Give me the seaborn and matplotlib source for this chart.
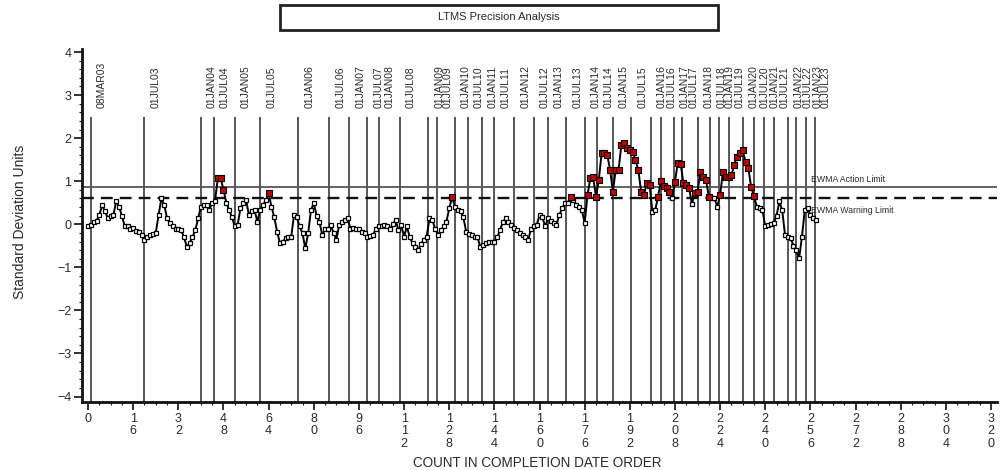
import numpy as np
import pandas as pd
import matplotlib
matplotlib.use("Agg")
import matplotlib.pyplot as plt
import seaborn as sns
from matplotlib.patches import Rectangle
from matplotlib.ticker import MultipleLocator

# ---------------- data ----------------
ewma = (
    [-0.05, -0.02, 0.05, 0.08, 0.22, 0.44, 0.30, 0.15, 0.20, 0.22]
    + [0.55, 0.40, 0.20, -0.05, -0.03, -0.10, -0.08, -0.15, -0.17, -0.25]
    + [-0.36, -0.30, -0.25, -0.22, -0.20, 0.22, 0.60, 0.45, 0.14, 0.03]
    + [-0.05, -0.10, -0.12, -0.14, -0.30, -0.52, -0.44, -0.30, -0.14, 0.14]
    + [0.41, 0.45, 0.44, 0.34, 0.50, 0.55, 1.07, 1.07, 0.80, 0.50]
    + [0.33, 0.16, -0.05, -0.02, 0.37, 0.49, 0.56, 0.22, 0.30, 0.33]
    + [0.06, 0.33, 0.45, 0.56, 0.72, 0.41, 0.16, -0.17, -0.44, -0.40]
    + [-0.33, -0.30, -0.29, 0.22, 0.16, -0.05, -0.21, -0.56, -0.21, 0.33]
    + [0.49, 0.20, 0.06, -0.25, -0.12, -0.10, -0.02, -0.20, -0.36, -0.02]
    + [0.06, 0.10, 0.14, -0.10, -0.08, -0.12, -0.10, -0.17, -0.20, -0.29]
    + [-0.27, -0.25, -0.10, -0.05, -0.04, -0.02, -0.05, -0.10, 0.00, 0.10]
    + [-0.14, -0.02, -0.29, -0.05, -0.30, -0.44, -0.52, -0.60, -0.45, -0.36]
    + [-0.29, 0.14, 0.10, -0.10, -0.25, -0.14, -0.05, 0.06, 0.37, 0.63]
    + [0.41, 0.33, 0.30, 0.16, -0.17, -0.22, -0.25, -0.29, -0.30, -0.52]
    + [-0.48, -0.44, -0.40, -0.42, -0.40, -0.30, -0.14, 0.05, 0.14, 0.06]
    + [-0.02, -0.08, -0.14, -0.21, -0.25, -0.30, -0.36, -0.10, -0.05, -0.02]
    + [0.22, 0.16, -0.05, 0.14, 0.08, 0.03, -0.02, 0.22, 0.37, 0.49]
    + [0.50, 0.63, 0.56, 0.45, 0.41, 0.33, 0.03, 0.68, 1.07, 1.10]
    + [0.64, 1.03, 1.65, 1.66, 1.62, 1.26, 0.76, 1.26, 1.26, 1.84]
    + [1.88, 1.76, 1.72, 1.69, 1.49, 1.26, 0.76, 0.68, 0.95, 0.91]
    + [0.29, 0.33, 0.64, 1.00, 0.90, 0.84, 0.76, 0.60, 0.99, 1.43]
    + [1.41, 0.95, 0.91, 0.84, 0.47, 0.72, 0.76, 1.22, 1.10, 1.03]
    + [0.64, 0.60, 0.60, 0.41, 0.68, 1.22, 1.10, 1.10, 1.14, 1.38]
    + [1.57, 1.65, 1.72, 1.45, 1.30, 0.86, 0.65, 0.41, 0.37, 0.33]
    + [-0.05, -0.02, 0.00, 0.03, 0.20, 0.53, 0.33, -0.25, -0.30, -0.33]
    + [-0.50, -0.60, -0.79, -0.29, 0.33, 0.37, 0.22, 0.15, 0.10]
)
action_limit = 0.866
warning_limit = 0.60

date_labels = ["08MAR03", "01JUL03", "01JAN04", "01JUL04", "01JAN05", "01JUL05",
               "01JAN06", "01JUL06", "01JAN07", "01JUL07", "01JAN08", "01JUL08",
               "01JAN09", "01JUL09", "01JAN10", "01JUL10", "01JAN11", "01JUL11",
               "01JAN12", "01JUL12", "01JAN13", "01JUL13", "01JAN14", "01JUL14",
               "01JAN15", "01JUL15", "01JAN16", "01JUL16", "01JAN17", "01JUL17",
               "01JAN18", "01JUL18", "01JAN19", "01JUL19", "01JAN20", "01JUL20",
               "01JAN21", "01JUL21", "01JAN22", "01JUL22", "01JAN23", "01JUL23"]
date_counts = [1, 20, 40, 44.5, 52, 61, 74.5, 85.5, 92.5, 99, 103, 110.5,
               120.5, 123.5, 130, 134.5, 139.5, 144, 151, 158, 163, 169.5,
               176, 180.5, 186, 192.5, 199.5, 203, 207.5, 210.5, 216, 220.5,
               223.5, 227, 232, 236, 239.5, 243, 248, 251, 254.5, 257.5]

xtick_values = list(range(0, 321, 16))
ytick_values = list(range(-4, 5))

# ---------------- style ----------------
sns.set_style("ticks")
plt.rcParams['font.family'] = ['Liberation Sans', 'DejaVu Sans']
TXT = '#2a2a2a'

fig = plt.figure(figsize=(10.05, 4.70), dpi=100)
ax = fig.add_axes([0.082, 0.1453, 0.9097, 0.7504])

df = pd.DataFrame({'count': np.arange(len(ewma)), 'ewma': ewma})

# date boundary lines
ax.vlines(date_counts, -4.12, 2.48, color='#3a3a3a', lw=1.2, zorder=1)
for c, lab in zip(date_counts, date_labels):
    ax.annotate(lab, xy=(c, 2.70), xytext=(8, 0), textcoords='offset points',
                rotation=90, ha='center', va='bottom', fontsize=7.5, color=TXT)

# limits
ax.axhline(action_limit, color='#555555', lw=1.3, zorder=1)
ax.axhline(warning_limit, color='#111111', lw=1.7, ls=(0, (5, 3)), zorder=1)
ax.text(256.2, 1.04, 'EWMA Action Limit', fontsize=6.3, va='center', ha='left',
        color=TXT, zorder=1)
ax.text(256.2, 0.31, 'EWMA Warning Limit', fontsize=6.3, va='center', ha='left',
        color=TXT, zorder=1)

# series
sns.lineplot(data=df, x='count', y='ewma', ax=ax, color='black', lw=1.4,
             marker='s', markersize=3.4, markerfacecolor='white',
             markeredgecolor='black', markeredgewidth=0.9, zorder=3)
hi = df[df['ewma'] > warning_limit]
sns.scatterplot(data=hi, x='count', y='ewma', ax=ax, marker='s', s=13,
                color='#c00000', edgecolor='black', linewidth=0.8, zorder=4)

# axes
ax.set_xlim(-2, 322)
ax.set_ylim(-4.12, 4.07)
ax.set_xticks(xtick_values)
ax.set_xticklabels(['\n'.join(str(v)) for v in xtick_values], linespacing=1.05)
ax.set_yticks(ytick_values)
ax.xaxis.set_minor_locator(MultipleLocator(4))
ax.yaxis.set_minor_locator(MultipleLocator(0.2))
ax.tick_params(axis='both', which='major', length=6, width=1.2, labelsize=9,
               colors='#111111', labelcolor=TXT, pad=2)
ax.tick_params(axis='both', which='minor', length=2.5, width=0.8, colors='#111111')
ax.set_xlabel('')
ax.set_ylabel('')
sns.despine(ax=ax)
for s in ('left', 'bottom'):
    ax.spines[s].set_linewidth(2)
    ax.spines[s].set_color('#111111')

# title box
fig.add_artist(Rectangle((280 / 1005, 1 - 30 / 470), 438 / 1005, 25 / 470,
                         transform=fig.transFigure, fill=False, lw=2, ec='#222222'))
fig.text(499 / 1005, 1 - 17.5 / 470, 'LTMS Precision Analysis', fontsize=8,
         ha='center', va='center', color=TXT)

fig.text(20 / 1005, 1 - 222 / 470, 'Standard Deviation Units', rotation=90,
         fontsize=10, ha='center', va='center', color=TXT)
fig.text(537 / 1005, 1 - 456 / 470, 'COUNT IN COMPLETION DATE ORDER',
         fontsize=9.75, ha='center', va='top', color=TXT)

fig.savefig('out.png', dpi=100)
